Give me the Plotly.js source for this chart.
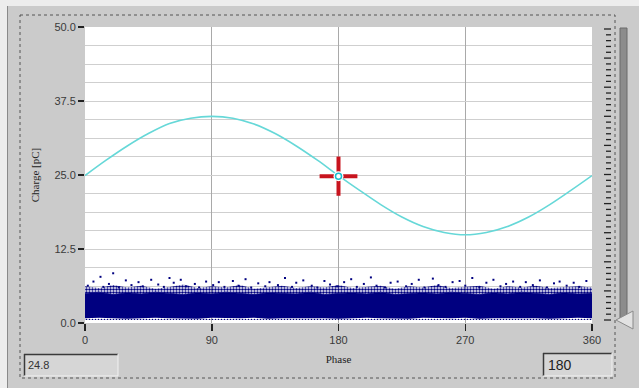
<!DOCTYPE html>
<html>
<head>
<meta charset="utf-8">
<script src="https://cdn.plot.ly/plotly-3.0.1.min.js"></script>
<style>html,body{margin:0;padding:0;background:#cbcbcb;}#chart{width:639px;height:388px;}</style>
</head>
<body>
<div id="chart"></div>
<script>
// ---- data ----
const phase = [0,15,30,45,60,75,90,105,120,135,150,165,180,195,210,225,240,255,270,285,300,315,330,345,360];
const charge = [24.9,27.5,29.9,32.0,33.7,34.6,34.9,34.6,33.6,32.0,29.9,27.5,24.9,22.4,20.0,17.9,16.3,15.3,14.9,15.3,16.3,17.9,20.0,22.4,24.9];

const bandX = [0,10,20,30,40,50,60,70,80,90,100,110,120,130,140,150,160,170,180,190,200,210,220,230,240,250,260,270,280,290,300,310,320,330,340,350,360];
const bandBottom = [0.8,0.9,0.8,0.7,0.8,0.9,0.8,0.8,0.7,0.9,0.8,0.8,0.9,0.7,0.8,0.8,0.9,0.8,0.7,0.8,0.9,0.8,0.8,0.7,0.9,0.8,0.8,0.9,0.7,0.8,0.8,0.9,0.8,0.7,0.8,0.9,0.8];
const coreTop = [5.0,5.2,4.8,5.1,4.9,5.2,5.0,4.8,5.1,4.9,5.2,5.0,4.8,5.1,5.0,4.9,5.2,4.8,5.0,5.1,4.9,5.2,4.8,5.0,5.1,4.9,5.2,5.0,4.8,5.1,4.9,5.2,5.0,4.8,5.1,4.9,5.0];
const fringeTop = [6.2,5.9,6.4,6.0,6.3,5.8,6.1,6.5,5.9,6.2,6.0,6.4,5.8,6.1,6.3,5.9,6.2,6.0,6.4,5.9,6.1,6.3,5.8,6.2,6.0,6.4,5.9,6.1,6.3,5.8,6.2,6.0,6.3,5.9,6.1,6.2,6.0];
const lowX = [0,360];
const lowY = [0.5,0.5];

const outX = [2,6,11,13,17,20,24,29,33,38,41,47,52,56,60,63,68,72,78,81,86,91,95,99,105,109,114,118,123,128,131,137,142,147,150,155,161,165,170,174,179,184,189,193,198,203,207,213,217,222,228,232,237,241,247,251,256,261,266,270,275,280,285,290,295,299,304,309,313,318,323,328,333,337,342,347,351,356];
const outY = [6.3,7.0,7.8,6.1,6.6,8.4,6.0,7.2,6.4,6.9,6.2,7.3,6.5,6.1,7.6,6.8,7.3,6.2,6.6,6.0,7.0,6.4,6.9,6.1,7.1,6.3,7.4,6.0,6.7,6.2,6.9,6.4,7.6,6.1,6.8,7.2,6.3,6.0,7.1,6.5,6.2,6.9,7.4,6.1,6.6,7.7,6.3,6.0,6.8,7.0,6.2,6.6,7.3,6.0,7.5,6.4,6.1,6.9,7.1,6.3,7.6,6.0,6.8,7.3,6.2,6.6,7.0,6.1,6.9,6.4,7.2,6.0,6.7,7.0,6.3,6.8,6.1,7.1];

const cursorX = [180];
const cursorY = [24.8];

const xTicks = [0,90,180,270,360];
const xTickText = ['0','90','180','270','360'];
const yTicks = [0,12.5,25,37.5,50];
const yTickText = ['0.0','12.5','25.0','37.5','50.0'];

const leftBoxText = '24.8';
const rightBoxText = '180';

// ---- styling / layout ----
const NAVY = '#000080';
const L=85, R=592, T=27, B=323;
function px(x){return (x-L)/(R-L);}
function py(y){return (B-y)/(B-T);}

const traces = [
  {x: lowX, y: lowY, mode:'lines', line:{width:0}, hoverinfo:'skip', showlegend:false},
  {x: bandX, y: bandBottom, mode:'lines', line:{width:0}, fill:'tonexty',
   fillpattern:{shape:'.', fgcolor:NAVY, bgcolor:'rgba(0,0,0,0)', size:3, solidity:0.25}, showlegend:false},
  {x: bandX, y: coreTop, mode:'lines', line:{width:0.8, color:NAVY}, fill:'tonexty', fillcolor:NAVY, showlegend:false},
  {x: bandX, y: fringeTop, mode:'lines', line:{width:0}, fill:'tonexty',
   fillpattern:{shape:'.', fgcolor:NAVY, bgcolor:'rgba(0,0,0,0)', size:3, solidity:0.55}, showlegend:false},
  {x: outX, y: outY, mode:'markers', marker:{symbol:'square', size:2, color:NAVY}, showlegend:false},
  {x: phase, y: charge, mode:'lines', line:{color:'#66d8d8', width:1.6, shape:'spline'}, showlegend:false},
  {x: cursorX, y: cursorY, mode:'markers', marker:{symbol:'line-ew', size:27, line:{color:'#c8141e', width:4}}, showlegend:false},
  {x: cursorX, y: cursorY, mode:'markers', marker:{symbol:'line-ns', size:28, line:{color:'#c8141e', width:4}}, showlegend:false},
  {x: cursorX, y: cursorY, mode:'markers', marker:{symbol:'circle', size:10, color:'white', line:{width:0}}, showlegend:false},
  {x: cursorX, y: cursorY, mode:'markers', marker:{symbol:'circle-open', size:6, line:{color:'#c8141e', width:1.5}}, showlegend:false}
];

const shapes = [];
shapes.push({type:'rect', xref:'paper', yref:'paper', x0:px(0), x1:px(639), y0:py(0), y1:py(6), fillcolor:'#ededed', line:{width:0}});
shapes.push({type:'rect', xref:'paper', yref:'paper', x0:px(0), x1:px(7), y0:py(0), y1:py(388), fillcolor:'#ededed', line:{width:0}});
shapes.push({type:'line', xref:'paper', yref:'paper', x0:px(7.5), x1:px(7.5), y0:py(6), y1:py(388), line:{color:'#8a8a8a', width:1}});
shapes.push({type:'rect', xref:'paper', yref:'paper', x0:px(20), x1:px(615), y0:py(15), y1:py(378), line:{color:'#555555', width:1, dash:'dot'}});
for (let i=0;i<=50;i++){
  const yy = 29 + i*5.82;
  const major = (i%5===0);
  shapes.push({type:'line', xref:'paper', yref:'paper', x0:px(major?604:606), x1:px(611), y0:py(yy), y1:py(yy), line:{color:'#222222', width:1.3}});
}
shapes.push({type:'rect', xref:'paper', yref:'paper', x0:px(620), x1:px(627), y0:py(28), y1:py(320), fillcolor:'#8c8c8c', line:{color:'#6a6a6a', width:1}});
shapes.push({type:'path', xref:'paper', yref:'paper',
  path:'M '+px(633)+' '+py(311)+' L '+px(616)+' '+py(320)+' L '+px(633)+' '+py(329)+' Z',
  fillcolor:'#e2e2e2', line:{color:'#8a8a8a', width:1}});
function box(x0,x1,y0,y1){
  shapes.push({type:'rect', xref:'paper', yref:'paper', x0:px(x0), x1:px(x1), y0:py(y0), y1:py(y1), fillcolor:'#d6d6d6', line:{width:0}});
  shapes.push({type:'line', xref:'paper', yref:'paper', x0:px(x0), x1:px(x1), y0:py(y0+0.5), y1:py(y0+0.5), line:{color:'#3a3a3a', width:1.5}});
  shapes.push({type:'line', xref:'paper', yref:'paper', x0:px(x0+0.5), x1:px(x0+0.5), y0:py(y0), y1:py(y1), line:{color:'#3a3a3a', width:1.5}});
  shapes.push({type:'line', xref:'paper', yref:'paper', x0:px(x0), x1:px(x1), y0:py(y1), y1:py(y1), line:{color:'#f2f2f2', width:1}});
  shapes.push({type:'line', xref:'paper', yref:'paper', x0:px(x1), x1:px(x1), y0:py(y0), y1:py(y1), line:{color:'#f2f2f2', width:1}});
}
box(24,118,354,376);
box(543,612,353,376);

const layout = {
  width:639, height:388,
  margin:{l:L, r:639-R, t:T, b:388-B, pad:0},
  paper_bgcolor:'#cbcbcb',
  plot_bgcolor:'#ffffff',
  showlegend:false,
  xaxis:{
    range:[0,360], tickmode:'array', tickvals:xTicks, ticktext:xTickText,
    ticks:'outside', ticklen:7, tickwidth:1.5, tickcolor:'#222222',
    showgrid:true, gridcolor:'#a9a9a9', gridwidth:1, zeroline:false, showline:false,
    tickfont:{family:'Liberation Sans, Arial, sans-serif', size:11, color:'#3a3a3a'},
    title:{text:'Phase', standoff:10, font:{family:'Liberation Serif, Times New Roman, serif', size:11, color:'#222222'}},
    fixedrange:true
  },
  yaxis:{
    range:[0,50], tickmode:'array', tickvals:yTicks, ticktext:yTickText,
    ticks:'outside', ticklen:6, tickwidth:1.5, tickcolor:'#222222',
    showgrid:true, gridcolor:'#cfcfcf', gridwidth:1, zeroline:false, showline:false,
    minor:{tickmode:'linear', tick0:0, dtick:3.125, showgrid:true, gridcolor:'#cfcfcf', gridwidth:1, ticks:''},
    tickfont:{family:'Liberation Sans, Arial, sans-serif', size:11, color:'#3a3a3a'},
    title:{text:'Charge [pC]', standoff:12, font:{family:'Liberation Serif, Times New Roman, serif', size:11, color:'#222222'}},
    fixedrange:true
  },
  shapes: shapes,
  annotations:[
    {xref:'paper', yref:'paper', x:px(26), y:py(365), xanchor:'left', yanchor:'middle', text:leftBoxText, showarrow:false,
     font:{family:'Liberation Sans, Arial, sans-serif', size:11, color:'#333333'}},
    {xref:'paper', yref:'paper', x:px(546), y:py(365), xanchor:'left', yanchor:'middle', text:rightBoxText, showarrow:false,
     font:{family:'Liberation Sans, Arial, sans-serif', size:14, color:'#222222'}}
  ]
};

Plotly.newPlot('chart', traces, layout, {displayModeBar:false, staticPlot:true});
</script>
</body>
</html>
